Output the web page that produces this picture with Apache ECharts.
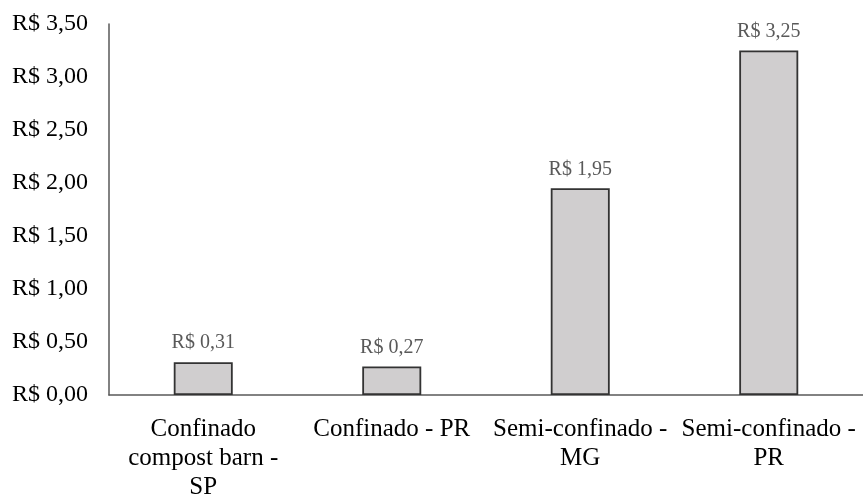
<!DOCTYPE html>
<html>
<head>
<meta charset="utf-8">
<script src="https://cdn.jsdelivr.net/npm/echarts@6/dist/echarts.min.js"></script>
<style>
  html, body { margin: 0; padding: 0; background: #fff; }
  #chart { width: 863px; height: 502px; }
</style>
</head>
<body>
<div id="chart"></div>
<script>
// Custo por sistema de produção (R$)
const categories = [
  'Confinado\ncompost barn -\nSP',
  'Confinado - PR',
  'Semi-confinado -\nMG',
  'Semi-confinado -\nPR'
];
const values = [0.31, 0.27, 1.95, 3.25];
const yTicks = [0, 0.5, 1, 1.5, 2, 2.5, 3, 3.5];

const fmt = v => 'R$ ' + v.toFixed(2).replace('.', ',');
const serif = '"Liberation Serif", "Times New Roman", serif';

const chart = echarts.init(document.getElementById('chart'));
chart.setOption({
  animation: false,
  backgroundColor: '#ffffff',
  textStyle: { fontFamily: serif },
  grid: { left: 109, right: 0, top: 24, bottom: 103, containLabel: false },
  xAxis: {
    type: 'category',
    data: categories,
    axisLine: { show: true, lineStyle: { color: '#595959', width: 1.5 } },
    axisTick: { show: false },
    axisLabel: {
      interval: 0,
      color: '#000',
      fontFamily: serif,
      fontSize: 25,
      lineHeight: 29,
      margin: 20,
      align: 'center'
    }
  },
  yAxis: {
    type: 'value',
    min: yTicks[0],
    max: yTicks[yTicks.length - 1],
    interval: 0.5,
    splitLine: { show: false },
    axisLine: { show: true, lineStyle: { color: '#595959', width: 1.5 } },
    axisTick: { show: false },
    axisLabel: {
      color: '#000',
      fontFamily: serif,
      fontSize: 24,
      margin: 21,
      formatter: fmt
    }
  },
  series: [{
    type: 'bar',
    data: values,
    barWidth: 59,
    itemStyle: { color: '#d0cecf', borderColor: '#333333', borderWidth: 1.8 },
    label: {
      show: true,
      position: 'top',
      distance: 9,
      color: '#595959',
      fontFamily: serif,
      fontSize: 20,
      formatter: p => fmt(p.value)
    }
  }]
});
</script>
</body>
</html>
